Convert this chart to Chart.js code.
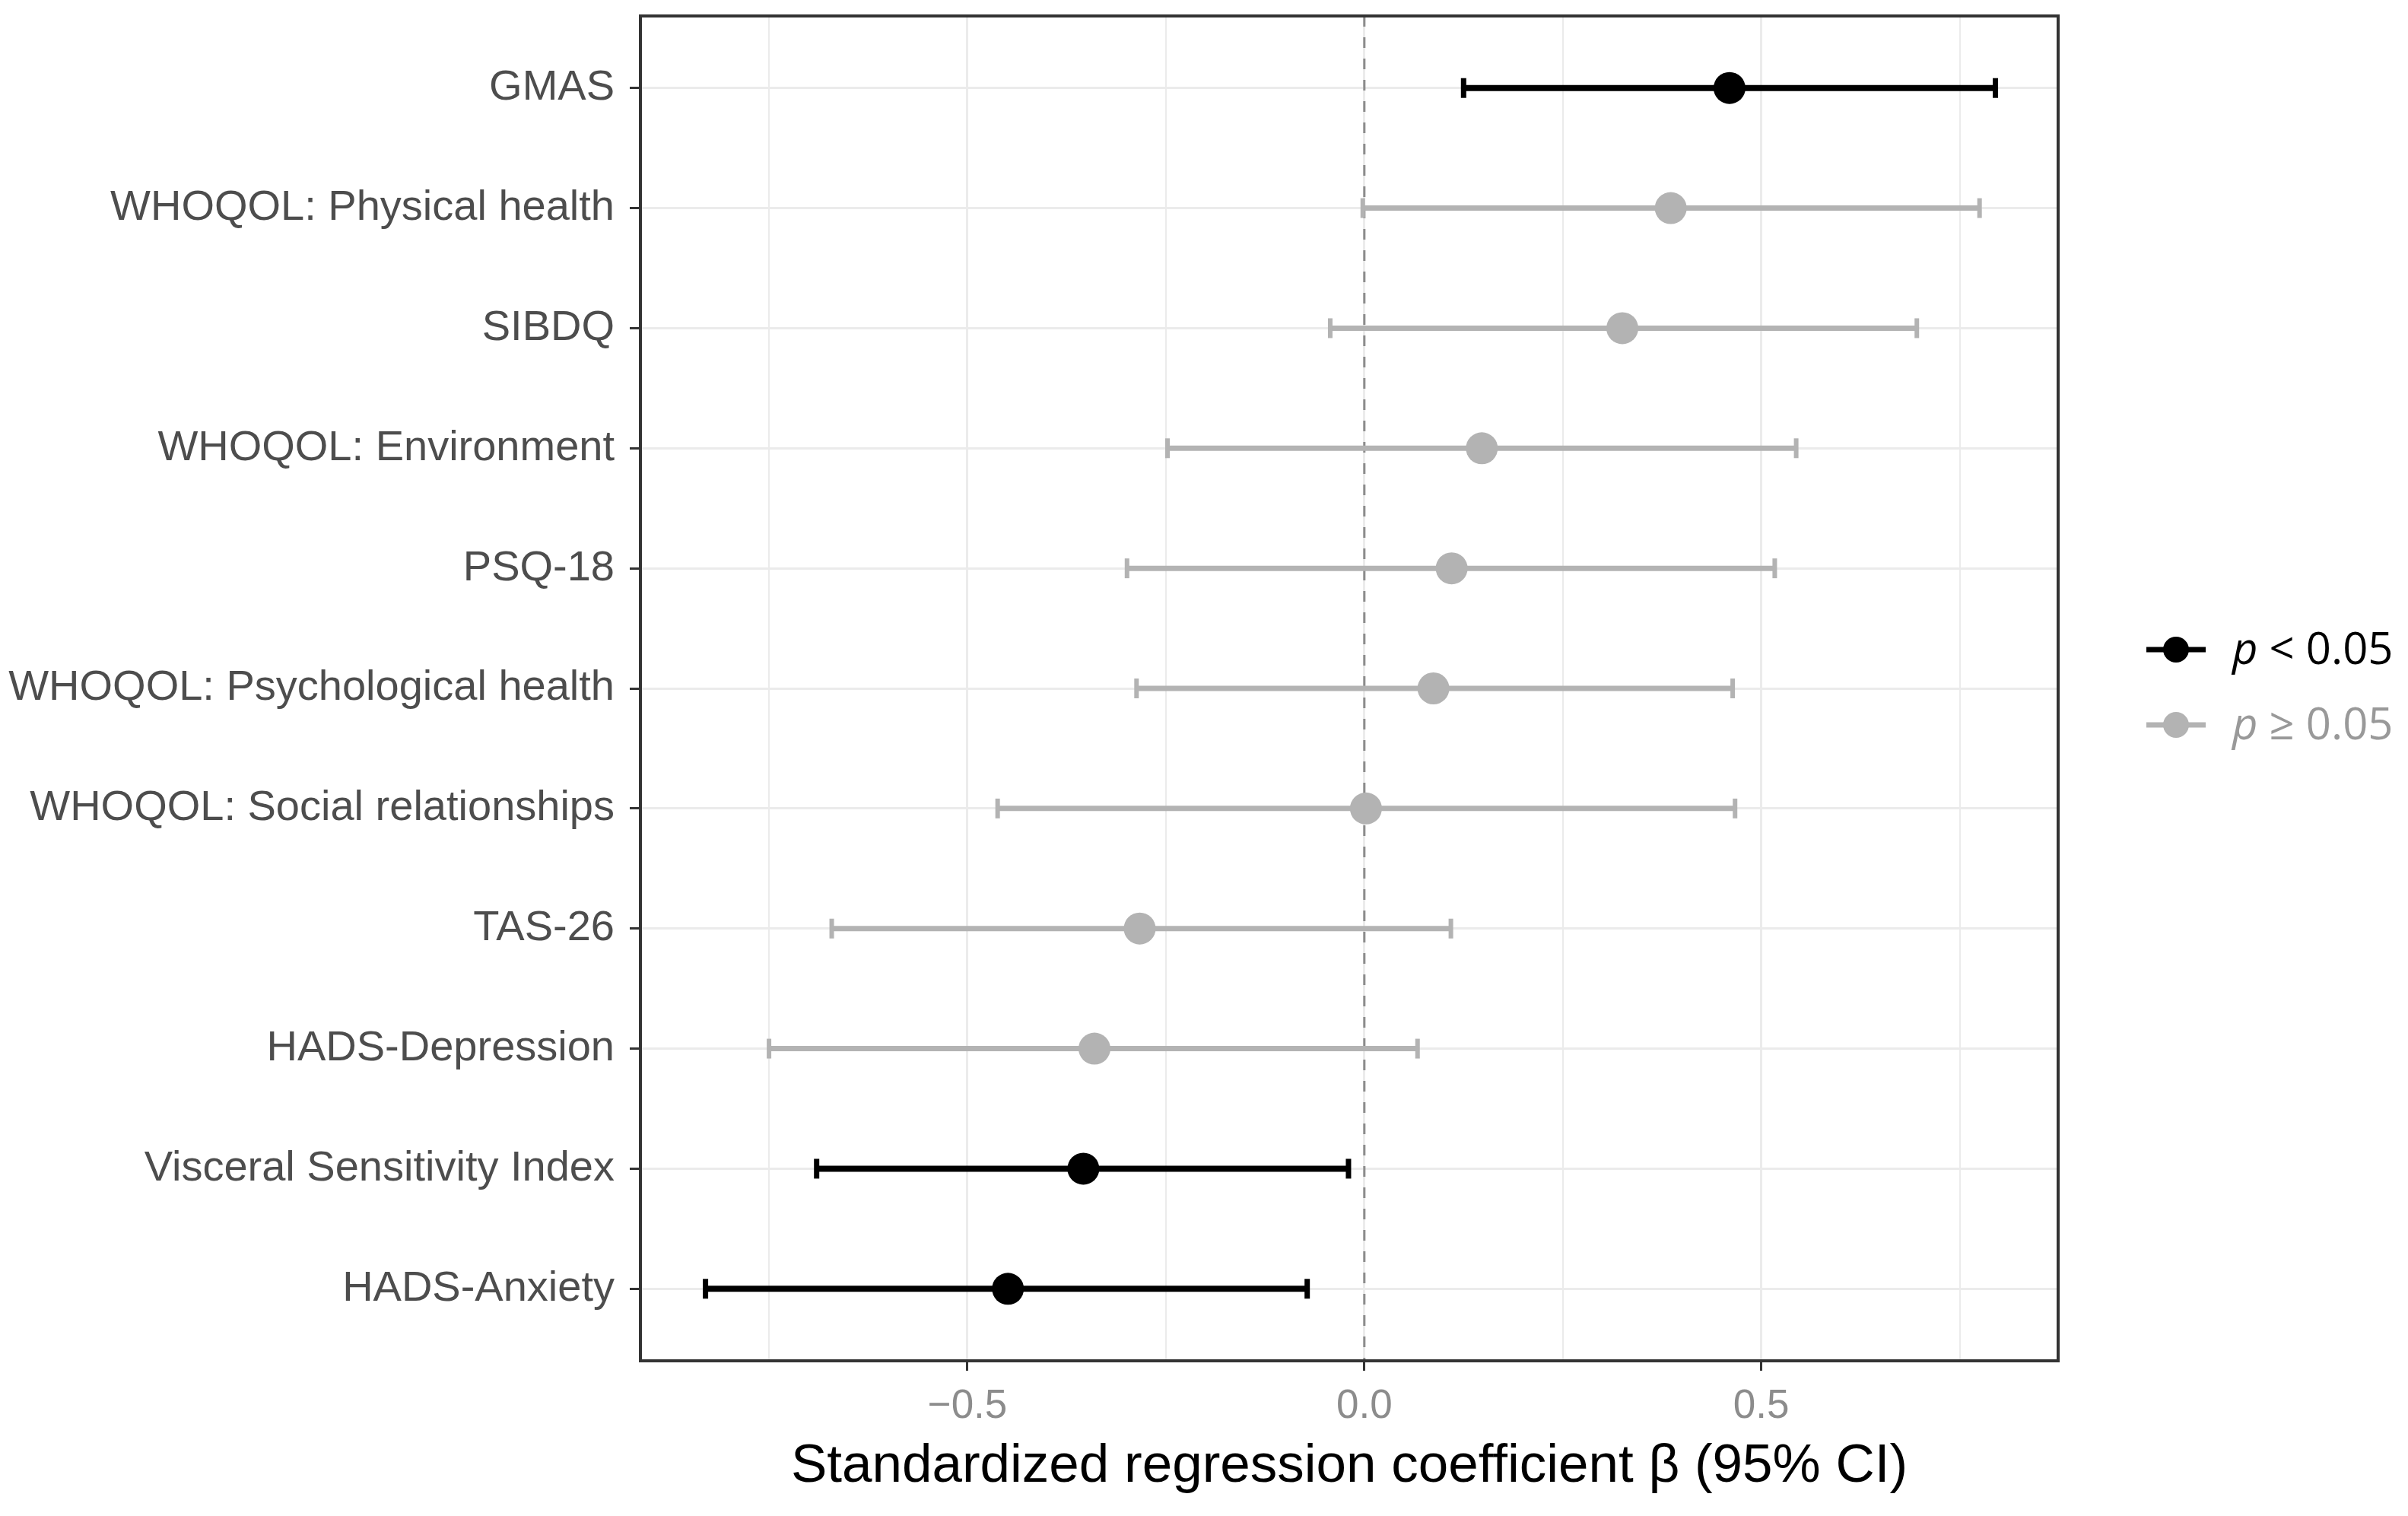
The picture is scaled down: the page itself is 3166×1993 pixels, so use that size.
<!DOCTYPE html>
<html>
<head>
<meta charset="utf-8">
<script src="https://cdn.jsdelivr.net/npm/chart.js@4.4.1/dist/chart.umd.min.js"></script>
<style>
  html, body { margin: 0; padding: 0; background: #fff; }
  canvas { display: block; }
</style>
</head>
<body>
<canvas id="forest" width="3166" height="1993"></canvas>
<script>
// Outcome measures, top to bottom
const measures = [
  "GMAS",
  "WHOQOL: Physical health",
  "SIBDQ",
  "WHOQOL: Environment",
  "PSQ-18",
  "WHOQOL: Psychological health",
  "WHOQOL: Social relationships",
  "TAS-26",
  "HADS-Depression",
  "Visceral Sensitivity Index",
  "HADS-Anxiety"
];
const beta   = [0.46, 0.386, 0.325, 0.148, 0.110, 0.087, 0.002, -0.283, -0.340, -0.354, -0.449];
const ciLow  = [0.125, -0.002, -0.043, -0.248, -0.299, -0.287, -0.462, -0.671, -0.750, -0.690, -0.830];
const ciHigh = [0.795, 0.775, 0.696, 0.544, 0.517, 0.464, 0.467, 0.109, 0.067, -0.020, -0.072];
const significant = [true, false, false, false, false, false, false, false, false, true, true];

const xTicks = [-0.75, -0.5, -0.25, 0, 0.25, 0.5, 0.75];
const legendLabels = ["< 0.05", "\u2265 0.05"];

const BLACK = "#000000";
const GREY = "#b3b3b3";

// one line dataset per row for the CI with end caps
const ciSets = measures.map((m, i) => ({
  type: "scatter",
  showLine: true,
  data: [{ x: ciLow[i], y: i }, { x: ciHigh[i], y: i }],
  borderColor: significant[i] ? BLACK : GREY,
  borderWidth: significant[i] ? 8 : 7,
  pointStyle: "line",
  rotation: 90,
  pointRadius: 13,
  pointBorderWidth: significant[i] ? 7 : 6,
  pointBorderColor: significant[i] ? BLACK : GREY,
  order: 2
}));

const pointSet = (sig) => ({
  type: "scatter",
  data: beta.map((b, i) => ({ x: b, y: i })).filter((p, i) => significant[i] === sig),
  pointStyle: "circle",
  pointRadius: 21,
  backgroundColor: sig ? BLACK : GREY,
  borderWidth: 0,
  order: 1
});

// dashed zero line, panel frame and the legend
const extras = {
  id: "extras",
  beforeDatasetsDraw(chart) {
    const { ctx, chartArea: a, scales } = chart;
    const x0 = scales.x.getPixelForValue(0);
    ctx.save();
    ctx.strokeStyle = "#8c8c8c";
    ctx.lineWidth = 3;
    ctx.setLineDash([14, 14]);
    ctx.beginPath();
    ctx.moveTo(x0, a.top);
    ctx.lineTo(x0, a.bottom);
    ctx.stroke();
    ctx.restore();
  },
  afterDraw(chart) {
    const { ctx, chartArea: a } = chart;
    ctx.save();
    ctx.strokeStyle = "#333333";
    ctx.lineWidth = 4;
    ctx.strokeRect(a.left, a.top, a.right - a.left, a.bottom - a.top);

    const rows = [854, 953];
    const colors = [BLACK, GREY];
    const textColors = ["#000000", "#999999"];
    rows.forEach((y, k) => {
      ctx.strokeStyle = colors[k];
      ctx.lineWidth = 7;
      ctx.beginPath();
      ctx.moveTo(2822, y);
      ctx.lineTo(2900, y);
      ctx.stroke();
      ctx.fillStyle = colors[k];
      ctx.beginPath();
      ctx.arc(2861, y, 17, 0, Math.PI * 2);
      ctx.fill();

      ctx.fillStyle = textColors[k];
      ctx.textBaseline = "alphabetic";
      ctx.textAlign = "left";
      ctx.font = "italic 58px 'Open Sans'";
      ctx.fillText("p", 2935, y + 19);
      const w = ctx.measureText("p ").width;
      ctx.font = "58px 'Open Sans'";
      ctx.fillText(legendLabels[k], 2935 + w, y + 19);
    });
    ctx.restore();
  }
};

new Chart(document.getElementById("forest"), {
  data: { datasets: [...ciSets, pointSet(true), pointSet(false)] },
  options: {
    responsive: false,
    animation: false,
    devicePixelRatio: 1,
    layout: { padding: { left: 0, right: 460, top: 16, bottom: 0 } },
    plugins: { legend: { display: false }, tooltip: { enabled: false } },
    scales: {
      x: {
        type: "linear",
        min: -0.912,
        max: 0.874,
        afterBuildTicks: (s) => { s.ticks = xTicks.map(v => ({ value: v })); },
        afterFit: (s) => { s.height = 1993 - 1789; s.paddingLeft = 0; s.paddingRight = 0; },
        border: { display: false },
        grid: {
          color: "#ebebeb",
          lineWidth: (c) => (c.tick && Math.abs(c.tick.value % 0.5) < 1e-9 ? 3 : 2),
          tickColor: (c) => (c.tick && Math.abs(c.tick.value % 0.5) < 1e-9 ? "#333333" : "rgba(0,0,0,0)"),
          tickLength: 13,
          tickWidth: 3
        },
        ticks: {
          autoSkip: false,
          maxRotation: 0,
          padding: 16,
          color: "#8c8c8c",
          font: { family: "'Liberation Sans', Arial", size: 53 },
          callback: (v) => (Math.abs(v % 0.5) < 1e-9 ? (v < 0 ? "\u2212" + Math.abs(v).toFixed(1) : v.toFixed(1)) : "")
        },
        title: {
          display: true,
          text: "Standardized regression coefficient \u03b2 (95% CI)",
          color: "#000000",
          font: { family: "'Liberation Sans', Arial", size: 71 },
          padding: { top: 0, bottom: 22 }
        }
      },
      y: {
        type: "linear",
        reverse: true,
        min: -0.6,
        max: 10.6,
        afterBuildTicks: (s) => { s.ticks = measures.map((m, i) => ({ value: i })); },
        afterFit: (s) => { s.width = 842; s.paddingTop = 0; s.paddingBottom = 0; },
        border: { display: false },
        grid: {
          color: "#ebebeb",
          lineWidth: 3,
          tickColor: "#333333",
          tickLength: 14,
          tickWidth: 3
        },
        ticks: {
          autoSkip: false,
          padding: 20,
          color: "#4d4d4d",
          font: { family: "'Liberation Sans', Arial", size: 56 },
          callback: (v) => measures[v]
        }
      }
    }
  },
  plugins: [extras]
});
</script>
</body>
</html>
